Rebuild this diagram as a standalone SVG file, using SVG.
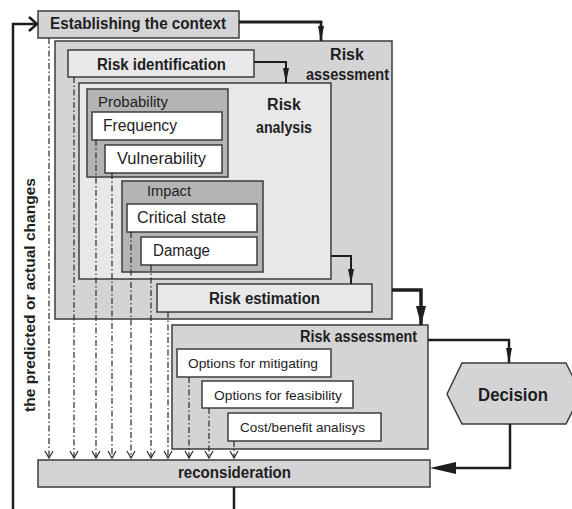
<svg xmlns="http://www.w3.org/2000/svg" width="572" height="509" viewBox="0 0 572 509">
<style>
text{font-family:"Liberation Sans",Arial,sans-serif;fill:#1e1e1e}
.b{font-weight:bold}
.box{stroke:#3c3c3c;stroke-width:1.5}
.g1{fill:#d4d4d6}
.g2{fill:#e8e8ea}
.g3{fill:#b4b4b6}
.w{fill:#ffffff}
.ln{fill:none;stroke:#1e1e1e;stroke-linejoin:miter}
.dd{fill:none;stroke:#2a2a2a;stroke-width:1.2;stroke-dasharray:6 2.5 1.5 2.5;marker-end:url(#v)}
</style>
<defs>
<marker id="v" markerUnits="userSpaceOnUse" markerWidth="12" markerHeight="12" refX="6" refY="10" orient="0" viewBox="0 0 12 12">
<polyline points="2,3 6,10 10,3" fill="none" stroke="#2a2a2a" stroke-width="1.2"/>
</marker>
<marker id="a1" markerUnits="userSpaceOnUse" markerWidth="8" markerHeight="16" refX="4" refY="15" orient="0" viewBox="0 0 8 16">
<polygon points="1,0 7,0 4,15" fill="#1e1e1e"/>
</marker>
<marker id="a2" markerUnits="userSpaceOnUse" markerWidth="12" markerHeight="20" refX="6" refY="19" orient="0" viewBox="0 0 12 20">
<polygon points="1,0 11,0 6,19" fill="#1e1e1e"/>
</marker>
</defs>

<g id="context">
<rect class="box g1" x="38" y="11" width="201" height="27"/>
<text class="b" x="50" y="29" font-size="16" textLength="176" lengthAdjust="spacingAndGlyphs">Establishing the context</text>
</g>

<g id="risk-assessment-outer">
<rect class="box g1" x="55" y="41" width="337" height="278"/>
<text class="b" x="347" y="60" font-size="16" text-anchor="middle">Risk</text>
<text class="b" x="306" y="80" font-size="16" textLength="83" lengthAdjust="spacingAndGlyphs">assessment</text>
</g>

<g id="risk-identification">
<rect class="box g2" x="68" y="50" width="186" height="27"/>
<text class="b" x="97" y="70" font-size="16" textLength="129" lengthAdjust="spacingAndGlyphs">Risk identification</text>
</g>

<g id="risk-analysis">
<rect class="box g2" x="79" y="83" width="252" height="196"/>
<text class="b" x="284" y="110" font-size="16" text-anchor="middle">Risk</text>
<text class="b" x="256" y="133" font-size="16" textLength="56" lengthAdjust="spacingAndGlyphs">analysis</text>
</g>

<g id="probability">
<rect class="box g3" x="87" y="89" width="141" height="88"/>
<text x="98" y="107" font-size="14" textLength="70" lengthAdjust="spacingAndGlyphs">Probability</text>
</g>
<g id="frequency">
<rect class="box w" x="92" y="112" width="130" height="28"/>
<text x="103" y="131" font-size="16" textLength="74" lengthAdjust="spacingAndGlyphs">Frequency</text>
</g>
<g id="vulnerability">
<rect class="box w" x="105" y="145" width="117" height="28"/>
<text x="117" y="164" font-size="16" textLength="89" lengthAdjust="spacingAndGlyphs">Vulnerability</text>
</g>

<g id="impact">
<rect class="box g3" x="122" y="181" width="141" height="91"/>
<text x="147" y="196" font-size="14" textLength="44" lengthAdjust="spacingAndGlyphs">Impact</text>
</g>
<g id="critical-state">
<rect class="box w" x="127" y="204" width="130" height="28"/>
<text x="137" y="223" font-size="16" textLength="89" lengthAdjust="spacingAndGlyphs">Critical state</text>
</g>
<g id="damage">
<rect class="box w" x="141" y="237" width="116" height="28"/>
<text x="153" y="256" font-size="16" textLength="57" lengthAdjust="spacingAndGlyphs">Damage</text>
</g>

<g id="risk-estimation">
<rect class="box g2" x="157" y="284" width="215" height="28"/>
<text class="b" x="209" y="304" font-size="16" textLength="111" lengthAdjust="spacingAndGlyphs">Risk estimation</text>
</g>

<g id="risk-assessment-2">
<rect class="box g1" x="172" y="325" width="256" height="124"/>
<text class="b" x="300" y="342" font-size="16" textLength="117" lengthAdjust="spacingAndGlyphs">Risk assessment</text>
</g>
<g id="options-mitigating">
<rect class="box w" x="177" y="349" width="154" height="28"/>
<text x="188" y="368" font-size="13" textLength="130" lengthAdjust="spacingAndGlyphs">Options for mitigating</text>
</g>
<g id="options-feasibility">
<rect class="box w" x="202" y="381" width="151" height="27"/>
<text x="214" y="400" font-size="13" textLength="128" lengthAdjust="spacingAndGlyphs">Options for feasibility</text>
</g>
<g id="cost-benefit">
<rect class="box w" x="228" y="413" width="153" height="28"/>
<text x="240" y="432" font-size="13" textLength="125" lengthAdjust="spacingAndGlyphs">Cost/benefit analisys</text>
</g>

<g id="decision">
<polygon class="box g1" points="447,394 462,363 566,363 581,394 566,424 462,424"/>
<text class="b" x="478" y="401" font-size="19" textLength="70" lengthAdjust="spacingAndGlyphs">Decision</text>
</g>

<g id="reconsideration">
<rect class="box g1" x="38" y="460" width="392" height="27"/>
<text class="b" x="178" y="478" font-size="16" textLength="113" lengthAdjust="spacingAndGlyphs">reconsideration</text>
</g>

<g id="changes-label">
<text class="b" transform="translate(35,295) rotate(-90)" font-size="15" text-anchor="middle" textLength="234" lengthAdjust="spacingAndGlyphs">the predicted or actual changes</text>
</g>

<g id="connectors">
<polyline class="ln" stroke-width="2.8" points="239,22 321,22 321,41" marker-end="url(#a1)"/>
<polyline class="ln" stroke-width="2" points="254,62 286,62 286,83" marker-end="url(#a1)"/>
<polyline class="ln" stroke-width="2" points="331,256 351,256 351,284" marker-end="url(#a1)"/>
<polyline class="ln" stroke-width="3.5" points="392,290 421,290 421,325" marker-end="url(#a2)"/>
<polyline class="ln" stroke-width="2.5" points="428,340 509,340 509,363" marker-end="url(#a1)"/>
<polyline class="ln" stroke-width="2.5" points="510,424 510,468 456,468"/>
<polygon points="430,468 456,462 456,474" fill="#1e1e1e"/>
<line class="ln" stroke-width="2.5" x1="234" y1="487" x2="234" y2="509"/>
<polyline class="ln" stroke-width="2.5" points="13,509 13,24 36,24"/>
<polyline class="ln" stroke-width="2.5" points="29,17 37,24 29,31"/>
<line class="dd" x1="49" y1="38" x2="49" y2="458"/>
<line class="dd" x1="74" y1="77" x2="74" y2="458"/>
<line class="dd" x1="96" y1="140" x2="96" y2="458"/>
<line class="dd" x1="112" y1="173" x2="112" y2="458"/>
<line class="dd" x1="131" y1="232" x2="131" y2="458"/>
<line class="dd" x1="151" y1="265" x2="151" y2="458"/>
<line class="dd" x1="168" y1="312" x2="168" y2="458"/>
<line class="dd" x1="189" y1="377" x2="189" y2="458"/>
<line class="dd" x1="209" y1="408" x2="209" y2="458"/>
<line class="dd" x1="234" y1="441" x2="234" y2="458"/>
</g>
</svg>
